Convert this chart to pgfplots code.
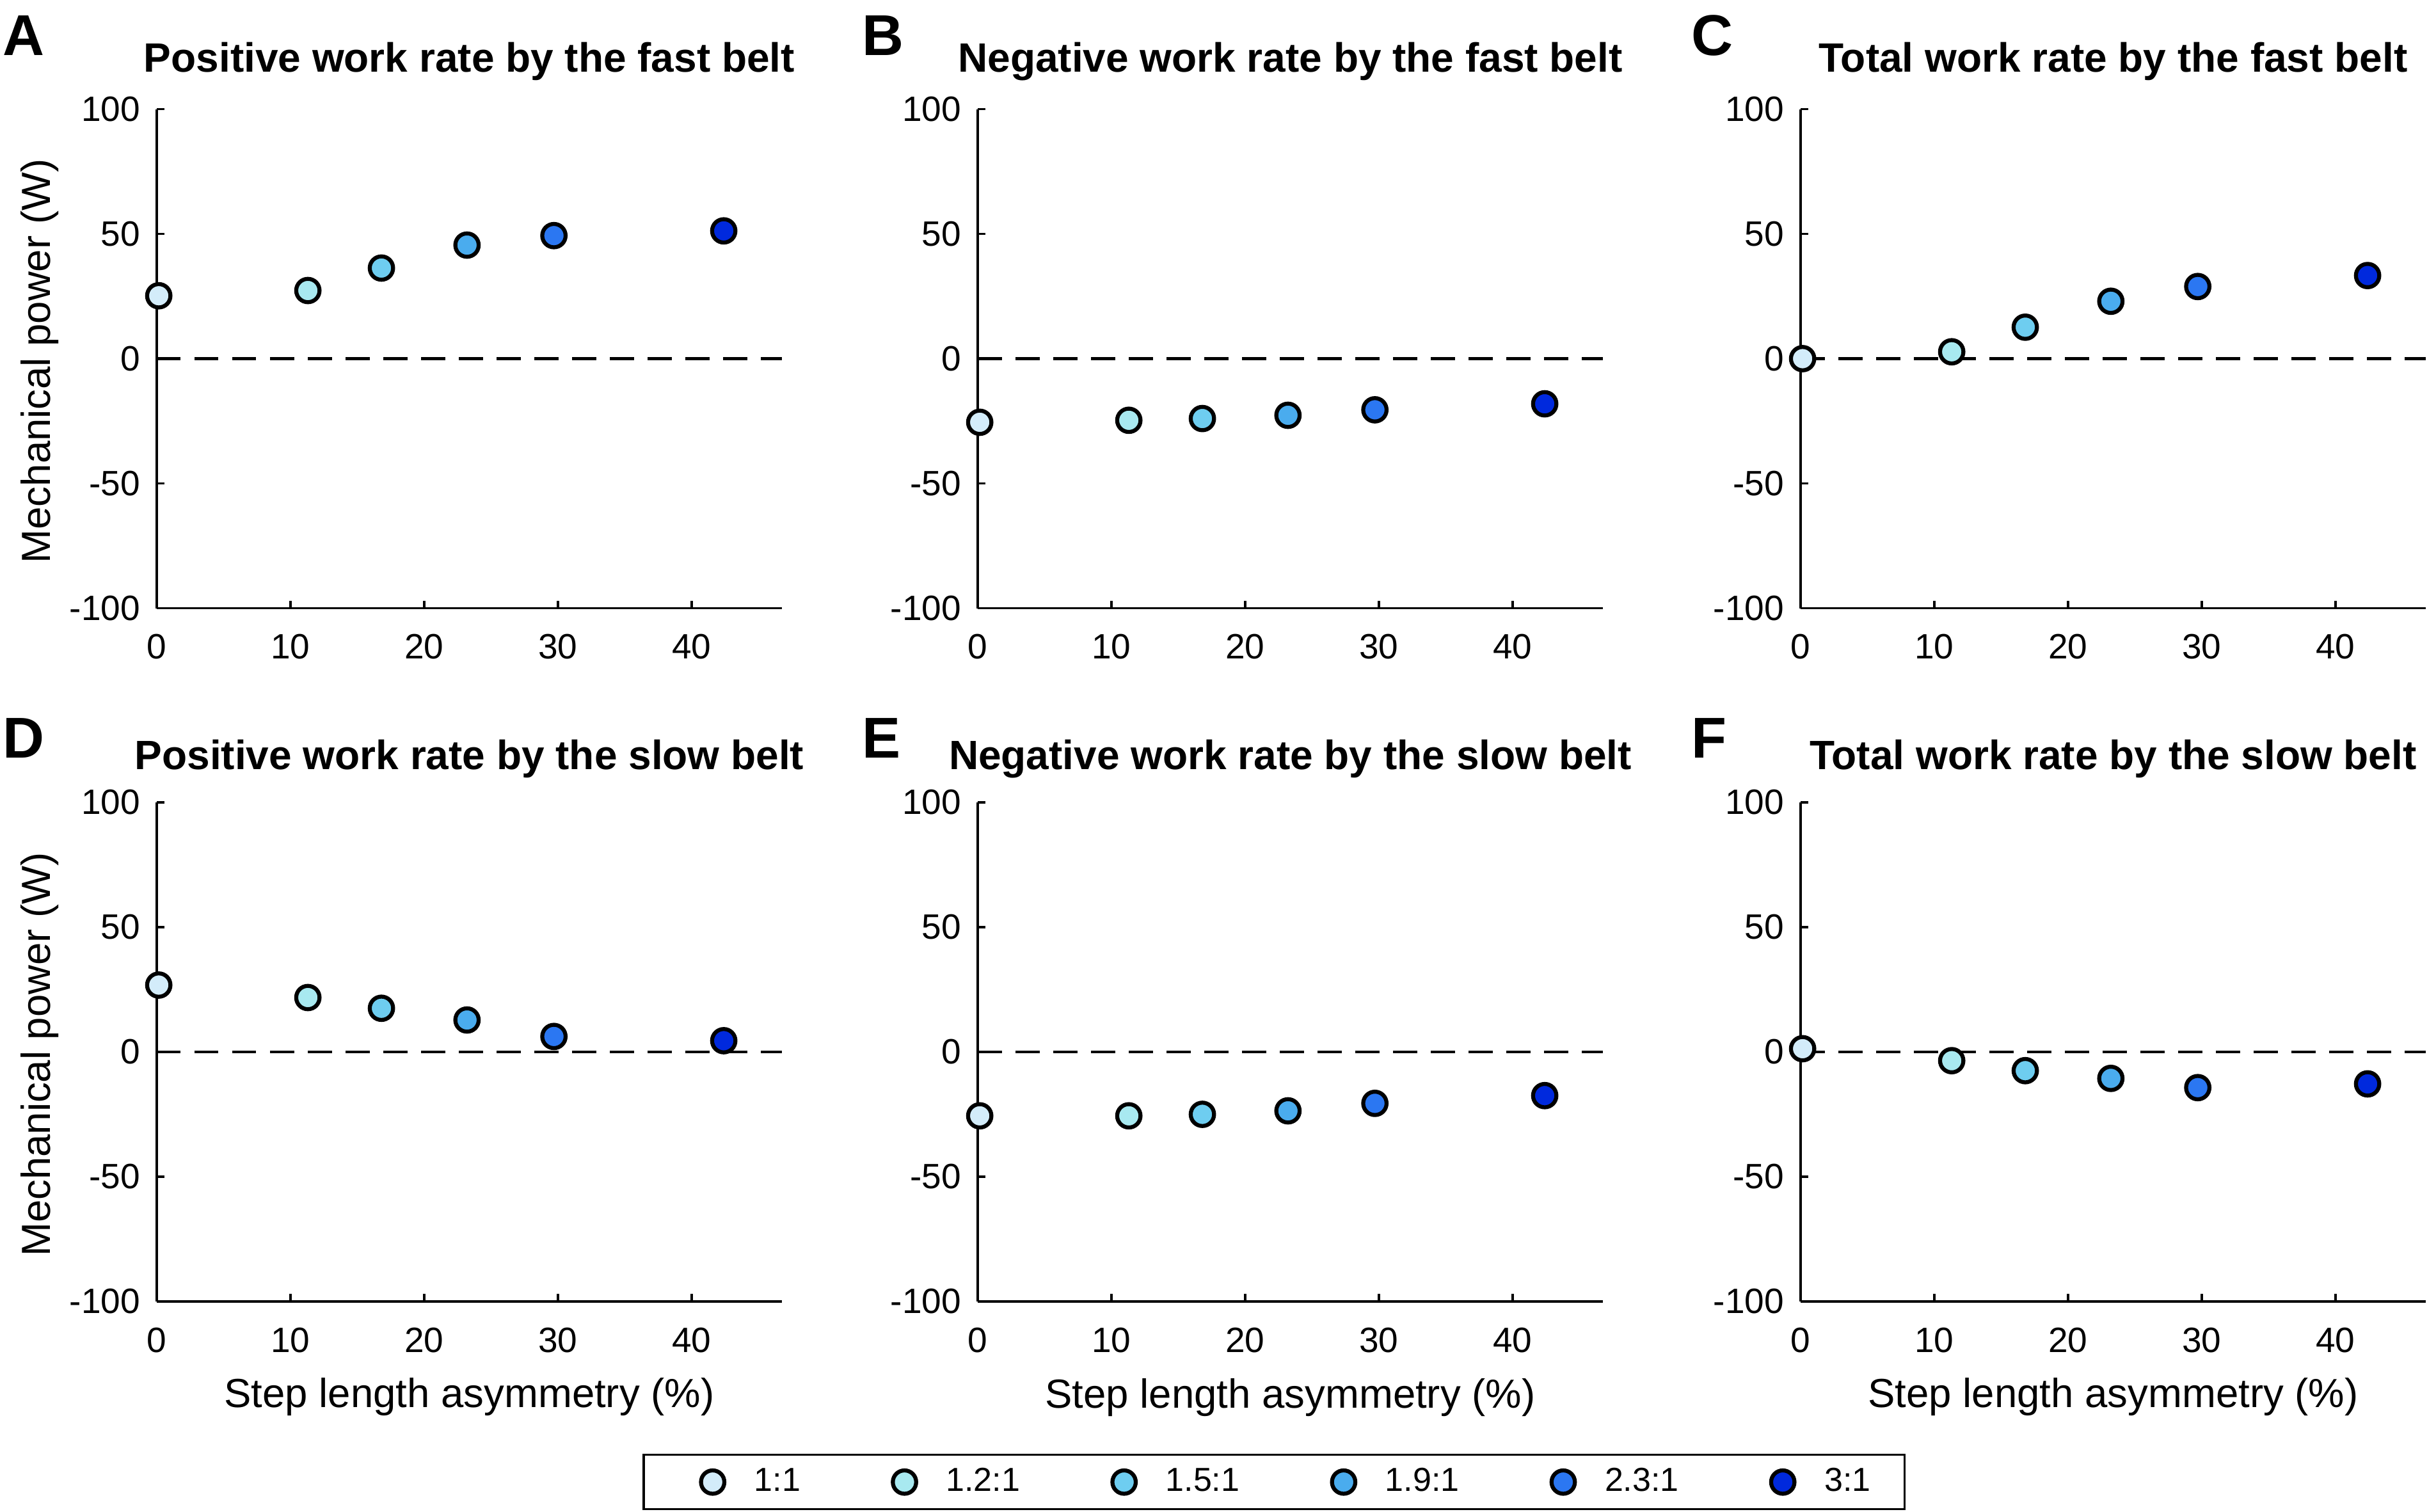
\documentclass[border=0pt]{standalone}
\usepackage{fontspec}
\setmainfont{Liberation Sans}
\usepackage{pgfplots}
\pgfplotsset{compat=1.18}

\definecolor{c1}{HTML}{D3ECFA}
\definecolor{c2}{HTML}{A8E9F0}
\definecolor{c3}{HTML}{6ECDF0}
\definecolor{c4}{HTML}{4AACEE}
\definecolor{c5}{HTML}{2B77F2}
\definecolor{c6}{HTML}{0029DD}

\pgfplotsset{
  pt/.style={only marks, mark=*, mark size=3.65pt, draw=black, line width=1.25pt},
  panel/.style={
    scale only axis, width=195.4pt, height=156pt, anchor=south west,
    xmin=0, xmax=46.75, ymin=-100, ymax=100, clip=false,
    axis x line*=bottom, axis y line*=left,
    xtick={0,10,20,30,40}, xticklabels={0,10,20,30,40},
    ytick={-100,-50,0,50,100}, yticklabels={-100,-50,0,50,100},
    tick align=inside, major tick length=2.4pt,
    every tick/.style={black, line width=0.67pt},
    axis line style={black, line width=0.67pt},
    tick label style={font=\fontsize{11}{13}\selectfont},
    xticklabel style={anchor=north, inner sep=0pt, yshift=-8pt},
    yticklabel style={anchor=east, inner sep=0pt, xshift=-5pt},
    xlabel style={font=\fontsize{12.7}{15}\selectfont, at={(axis description cs:0.5,-0.2128)}, anchor=base},
    ylabel style={font=\fontsize{12.7}{15}\selectfont, at={(axis description cs:-0.1709,0.495)}, anchor=base},
    every axis title shift=0pt,
    title style={font=\bfseries\fontsize{12.8}{15}\selectfont, at={(axis description cs:0.5,1)}, anchor=base},
  },
  toprow/.style={title style={yshift=11.6pt}},
  botrow/.style={title style={yshift=10.4pt}},
}

% x: step length asymmetry (%) for the six belt-speed ratios; y values given per panel
\newcommand{\pts}[6]{%
  \addplot[dash pattern=on 7.5pt off 4.3pt, line width=0.85pt, black, forget plot] coordinates {(0,0) (46.75,0)};
  \addplot[pt, fill=c1] coordinates {(0.15,#1)};
  \addplot[pt, fill=c2] coordinates {(11.3,#2)};
  \addplot[pt, fill=c3] coordinates {(16.8,#3)};
  \addplot[pt, fill=c4] coordinates {(23.2,#4)};
  \addplot[pt, fill=c5] coordinates {(29.7,#5)};
  \addplot[pt, fill=c6] coordinates {(42.4,#6)};
}
\newcommand{\letter}[3]{\node[anchor=base west, inner sep=0pt, font=\bfseries\fontsize{18}{20}\selectfont] at (axis description cs:#1,#2) {#3};}

\begin{document}
\begin{tikzpicture}
% Row 1
\begin{axis}[panel, toprow, at={(49pt,282.3pt)}, title={Positive work rate by the fast belt}, ylabel={Mechanical power (W)}]
\pts{25.2}{27.3}{36.3}{45.5}{49.3}{51.2}
\letter{-0.2467}{1.1077}{A}
\end{axis}
\begin{axis}[panel, toprow, at={(305.6pt,282.3pt)}, title={Negative work rate by the fast belt}]
\pts{-25.5}{-24.7}{-24.0}{-22.7}{-20.5}{-18.1}
\letter{-0.1853}{1.1077}{B}
\end{axis}
\begin{axis}[panel, toprow, at={(562.8pt,282.3pt)}, title={Total work rate by the fast belt}]
\pts{0.0}{2.75}{12.6}{23.0}{28.9}{33.3}
\letter{-0.176}{1.1077}{C}
\end{axis}
% Row 2
\begin{axis}[panel, botrow, at={(49pt,65.6pt)}, title={Positive work rate by the slow belt}, ylabel={Mechanical power (W)}, xlabel={Step length asymmetry (\%)}]
\pts{26.8}{21.8}{17.5}{12.8}{6.2}{4.5}
\letter{-0.2467}{1.0897}{D}
\end{axis}
\begin{axis}[panel, botrow, at={(305.6pt,65.6pt)}, title={Negative work rate by the slow belt}, xlabel={Step length asymmetry (\%)},
  legend entries={1:1\hspace*{21.5pt}, 1.2:1\hspace*{21.5pt}, 1.5:1\hspace*{21.5pt}, 1.9:1\hspace*{21.5pt}, 2.3:1\hspace*{21.5pt}, 3:1},
  legend columns=6,
  legend style={at={(axis description cs:-0.5363,-0.3051)}, anchor=north west, draw=black, line width=0.7pt,
    inner xsep=10.6pt, inner ysep=0pt, column sep=0pt, row sep=0pt,
    font=\fontsize{10.4}{12}\selectfont, cells={anchor=west}, nodes={inner sep=0pt}},
  legend image code/.code={\path[draw=none, fill=none] (-11pt,-8.5pt) rectangle (13pt,8.5pt); \draw[#1] plot coordinates {(0pt,0pt)};}]
\pts{-25.6}{-25.6}{-25.0}{-23.6}{-20.6}{-17.5}
\letter{-0.1853}{1.0897}{E}
\end{axis}
\begin{axis}[panel, botrow, at={(562.8pt,65.6pt)}, title={Total work rate by the slow belt}, xlabel={Step length asymmetry (\%)}]
\pts{1.3}{-3.5}{-7.5}{-10.6}{-14.3}{-12.8}
\letter{-0.176}{1.0897}{F}
\end{axis}
\pgfresetboundingbox
\useasboundingbox (0pt,0pt) rectangle (761.4pt,472.4pt);
\end{tikzpicture}
\end{document}
